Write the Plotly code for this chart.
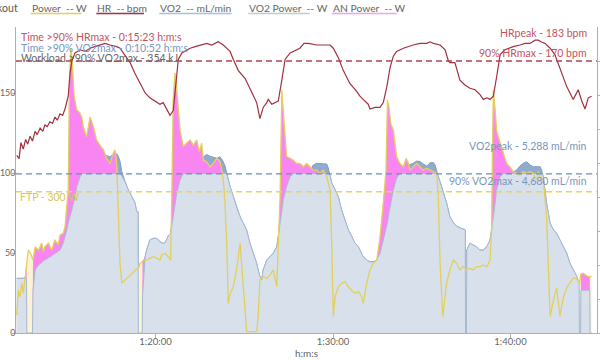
import numpy as np
import plotly.graph_objects as go

# ---------------- data ----------------
# elapsed time (s) for power / VO2 / VO2 power samples
t = [4331,4336,4342,4348,4353,4359,4364,4365,4370,4378,4384,4386,4393,4404,4410,4415,4421,4426,4438,4449,4460,4471,4477,
     4488,4494,4500,4505,4509,4514,4519,4525,4534,4545,4551,4556,4567,4579,4590,4601,4612,4624,4635,4646,4657,4663,4669,4674,4680,
     4686,4697,4708,4720,4731,4736,4741,4742,4748,4755,4756,4759,4765,4770,4781,4793,4804,4815,4821,4832,4843,4851,
     4855,4860,4866,4872,4883,4894,4905,4917,4928,4939,4948,4956,4962,4973,4984,4995,5007,5018,5024,5029,5035,5041,
     5046,5052,5063,5074,5086,5097,5108,5119,5131,5142,5147,5153,5159,5164,5176,5187,5198,5210,5215,5221,5227,5232,5243,5255,
     5266,5277,5288,5300,5311,5322,5333,5345,5356,5367,5379,5384,5390,5396,5401,5407,5418,5429,5441,5452,5463,5474,5486,5497,5502,5514,5525,5536,5548,
     5559,5570,5579,5584,5589,5595,5604,5615,5626,5638,5647,5655,5660,5671,5683,5694,5705,5717,5728,5739,5745,5751,
     5756,5762,5771,5779,5784,5795,5807,5818,5829,5840,5847,5848,5851,5852,5863,5874,5886,5897,5908,5920,5931,
     5936,5940,5942,5948,5953,5959,5965,5976,5987,5998,6009,6021,6032,6043,6055,6066,6077,6089,6094,6100,6105,6111,
     6122,6134,6145,6156,6167,6178,6190,6201,6212,6224,6232,6233,6237,6238,6246,6258,6268,6269,6274]

power_w = [38,91,77,106,84,120,153, 155,176,169,157,
           155,183,176,183,191,173,183,191,176,198,187,208,
           212,226,276,304,537,605,573,502,474,467,
           457,438,417,459,438,410,399,389,371,360,382,389,360,247,148,
           106,113,120,127,134,136,137, 137,148,151,
           152,155,155,155,159,162,159,155,166,169,162,155,
           290,502,552,516,431,
           396,403,410,399,410,385,403,367,364,353,360,371,364,346,325,276,183,
           63,84,98,134,191,91,3,3,3,3,
           35,113,117,120,116,123,134,98,
           183,290,516,467,375,371,
           367,360,360,353,360,353,346,346,339,346,332,319,304,
           183,35,77,98,106,109,98,91,84,88,77,63,106,134,148,155,
           205,276,346,495,481,445,431,375,
           360,353,371,360,346,353,360,353,346,350,346,343,341,339,
           290,148,35,77,106,134,155,148,134,141,138,
           137,134,
           134,137,134,141,141,144,141,155,
           219,431,516,474,431,416,403,
           382,360,353,343,339,336,343,339,343,339,325,343,332,329,325,
           247,35,70,96,36,74,96,106,117,115,106,
           106,123,
           125,127,121,119,
           119,121]

vo2_power_w = [116]*7 + [0]*4 + \
    [91,134,144,148,151,153,155,159,164,169,174,176] + \
    [191,204,219,234,242,255,266,283,311,332] + [339]*15 + \
    [334,321,304,290,276,258,258] + [0]*3 + \
    [77,113,162,176,198,201,201,194,191,191,206,212] + \
    [227,247,276,297,325] + [339]*17 + \
    [325,311,290,268,247,233,219,191,169,148] + \
    [134,120,113,134,155,162,169,183] + \
    [205,240,261,283,311,332] + [339]*12 + [334] + \
    [318,312,304,290,261,240,219,206,191,183,170,162,155,151,151,155] + \
    [169,198,219,234,255,276,304,329] + [339]*14 + \
    [332,321,304,290,276,247,234,227,223,221,219] + [0]*2 + \
    [176,191,187,183,176,176,183,198] + \
    [219,236,247,276,304,321,332] + [339]*14 + [332] + \
    [276,233,219,212,198,183,169,148,134,120,106] + [0]*2 + \
    [91]*4 + [0]*2

vo2_ml = [1609]*7 + [0]*4 + \
    [1265,1853,2000,2050,2088,2118,2147,2206,2265,2344,2412,2441] + \
    [2638,2823,3029,3235,3353,3529,3676,3912,4303,4597] + \
    [4697,4735,4794,4911,4991,5150,5200,5260,5220,5180,5250,5288,5270,5200,5050] + \
    [4750,4450,4206,4009,3814,3567,3567] + [0]*3 + \
    [1068,1559,2244,2441,2735,2785,2785,2685,2647,2638,2853,2932] + \
    [3147,3420,3814,4117,4500] + \
    [4697,4794,4891,4991,5038,5088,5150,5180,5250,5200,5176,5138,5185,5117,5038,4911,4697] + \
    [4500,4303,4009,3715,3420,3226,3029,2638,2344,2050] + \
    [1853,1656,1559,1853,2147,2244,2344,2538] + \
    [2832,3323,3617,3912,4303,4597] + \
    [4697,4697,4697,4697,4697,4735,4941,4991,4991,4991,4970,4853,4617] + \
    [4403,4323,4206,4009,3617,3323,3029,2853,2638,2529,2353,2244,2147,2097,2097,2147] + \
    [2344,2735,3029,3235,3529,3823,4206,4559] + \
    [4794,4853,4911,4941,4956,4991,5059,5044,4970,4911,5005,5014,4941,4697] + \
    [4597,4450,4206,4009,3823,3420,3235,3147,3088,3059,3029] + [0]*2 + \
    [2441,2638,2588,2529,2441,2441,2538,2735] + \
    [3029,3265,3420,3814,4206,4450,4597] + \
    [4697,4697,4697,4735,4794,4911,4991,5038,4941,4891,4891,4891,4891,4794,4597] + \
    [3814,3226,3029,2932,2735,2538,2344,2050,1853,1656,1462] + [0]*2 + \
    [1265]*4 + [0]*2

# heart rate samples
t_hr = [4331,4339,4345,4353,4361,4368,4376,4384,4393,4400,4410,4419,4426,4434,4443,4452,4460,4468,4477,4486,
        4494,4505,4511,4517,4528,4545,4562,4579,4595,4612,4629,4646,4669,4680,4691,4703,4714,4731,4748,4765,
        4781,4798,4815,4826,4838,4849,4860,4866,4877,4889,4900,4917,4934,4950,4973,4990,5012,5029,5052,5063,
        5080,5103,5119,5131,5142,5153,5164,5176,5181,5193,5204,5215,5227,5238,5255,5277,5288,5302,5317,5345,
        5366,5390,5401,5418,5435,5457,5480,5491,5502,5519,5525,5542,5559,5570,5582,5593,5604,5615,5638,5654,
        5671,5694,5717,5728,5739,5762,5779,5790,5795,5812,5829,5846,5863,5880,5897,5908,5920,5931,5942,5953,
        5965,5981,6009,6032,6049,6066,6083,6094,6103,6117,6134,6150,6167,6190,6212,6229,6241,6252,6263,6274]
hr_bpm = [111,109,119,115,121,118,123,120,126,124,128,126,130,129,132,131,135,133,137,136,
          140,148,162,170,175,177,176,178,179,180,181,180,179,178,175,172,169,162,156,150,
          147,145,143,144,140,136,139,152,171,175,176,178,179,180,181,180,182,180,176,171,
          164,159,153,149,144,134,141,144,146,143,144,145,158,171,175,177,178,181,181,180,
          180,180,178,172,164,156,151,148,146,143,140,141,141,144,154,166,173,176,178,179,
          180,181,181,182,181,180,177,170,169,169,158,155,153,152,149,146,147,146,148,160,
          174,177,179,180,181,181,183,183,182,181,178,174,166,154,146,152,145,140,147,148]

x_tick_vals = [4800, 5400, 6000]
x_tick_text = ["1:20:00", "1:30:00", "1:40:00"]
hr_ticks = [0, 50, 100, 150]
vo2_ticks = [0, 1, 2, 3, 4, 5, 6, 7, 8]

hr_90 = 170
vo2_90 = 4680
ftp = 300

legend_labels = ["Power  -- W", "HR  -- bpm", "VO2  -- mL/min", "VO2 Power  -- W", "AN Power  -- W"]

# ---------------- derived ----------------
power = np.array(power_w, dtype=float)
vp = np.array(vo2_power_w, dtype=float)
an_power = np.where(vp > 0, np.clip(power - vp, 0, None), 0.0)
vo2_l = np.array(vo2_ml) / 1000.0

# ---------------- styling ----------------
C_POWER = "#e3d05a"
C_HR = "#a3303f"
C_VO2_FILL = "#90abcc"
C_VO2_LINE = "#809ec3"
C_VP_FILL = "#d7e0eb"
C_VP_LINE = "#a6b9d1"
C_AN = "#f985f3"
C_PALE = "rgba(251,243,212,1)"
FONT = "Lato"

L, R, T, B = 16, 3, 27, 27
W, H = 600, 360
PW, PH = W - L - R, H - T - B


def px(x):
    return (x - L) / PW


def py(y):
    return (H - B - y) / PH


fig = go.Figure()
# VO2 area (main axis, right side)
fig.add_trace(go.Scatter(x=t, y=vo2_l, yaxis="y", mode="lines",
                         line=dict(color=C_VO2_LINE, width=1), fill="tozeroy",
                         fillcolor=C_VO2_FILL, name="VO2"))
# pale power fill
fig.add_trace(go.Scatter(x=t, y=power, yaxis="y2", mode="lines",
                         line=dict(width=0, color="rgba(0,0,0,0)"), fill="tozeroy",
                         fillcolor=C_PALE, hoverinfo="skip"))
# AN power stacked on VO2 power
fig.add_trace(go.Scatter(x=t, y=vp, yaxis="y2", mode="lines",
                         line=dict(width=0, color="rgba(0,0,0,0)"), hoverinfo="skip"))
fig.add_trace(go.Scatter(x=t, y=vp + an_power, yaxis="y2", mode="lines",
                         line=dict(width=0, color="rgba(0,0,0,0)"), fill="tonexty",
                         fillcolor=C_AN, name="AN Power"))
# VO2 power
fig.add_trace(go.Scatter(x=t, y=vp, yaxis="y2", mode="lines",
                         line=dict(color=C_VP_LINE, width=1), fill="tozeroy",
                         fillcolor=C_VP_FILL, name="VO2 Power"))
# power line
fig.add_trace(go.Scatter(x=t, y=power, yaxis="y2", mode="lines",
                         line=dict(color=C_POWER, width=1.3), name="Power"))
# HR
fig.add_trace(go.Scatter(x=t_hr, y=hr_bpm, yaxis="y3", mode="lines",
                         line=dict(color=C_HR, width=1.2), name="HR"))

axis_common = dict(showgrid=False, zeroline=False, showline=True, linecolor="#b0b0b0",
                   linewidth=1, ticks="outside", tickcolor="#b0b0b0", automargin=False)
tick_font = dict(family=FONT, size=9.5, color="#666")

fig.update_layout(
    width=W, height=H, margin=dict(l=L, r=R, t=T, b=B, pad=0, autoexpand=False),
    paper_bgcolor="white", plot_bgcolor="white", showlegend=False,
    font=dict(family=FONT, size=10, color="#666"),
    xaxis=dict(range=[4328.4, 6292.4], tickvals=x_tick_vals, ticktext=x_tick_text,
               ticklen=4, ticklabelstandoff=-4, tickfont=tick_font, **axis_common),
    yaxis=dict(range=[0, 9], side="right", tickvals=vo2_ticks, ticklen=2,
               ticklabelstandoff=-1, tickfont=tick_font, **axis_common),
    yaxis2=dict(range=[0, 650], overlaying="y", visible=False, automargin=False),
    yaxis3=dict(range=[0, 191.25], overlaying="y", side="left", tickvals=hr_ticks,
                ticklen=3, ticklabelstandoff=-5,
                tickfont=dict(family=FONT, size=8.8, color="#666"), **axis_common),
)

# reference lines
fig.add_shape(type="line", xref="paper", x0=0, x1=1, yref="y3", y0=hr_90, y1=hr_90,
              line=dict(color="#ad4452", width=1.3, dash="6px,4px"))
fig.add_shape(type="line", xref="paper", x0=0, x1=1, yref="y", y0=vo2_90 / 1000, y1=vo2_90 / 1000,
              line=dict(color="#6f8db5", width=1.3, dash="6px,4px"))
fig.add_shape(type="line", xref="paper", x0=0, x1=1, yref="y2", y0=ftp, y1=ftp,
              line=dict(color="#e3d467", width=1.3, dash="6px,4px"))

ann = []
def add_text(text, x, y, color, size=10, xanchor="left"):
    ann.append(dict(text=text, xref="paper", yref="paper", x=px(x), y=py(y),
                    xanchor=xanchor, yanchor="middle", showarrow=False, borderpad=0,
                    font=dict(family=FONT, size=size, color=color)))

# title (cut off at the left) and legend row
add_text("Workout", 19, 8, "#555", size=10.5, xanchor="right")
legend_cols = [C_POWER, C_HR, "#a9c0dc", "#c5c9cf", "#eea2ee"]
legend_x = [(30.7, 81.7), (96.3, 144), (159.3, 231.7), (248.3, 310), (331.7, 396.7)]
for lab, col, (x0, x1) in zip(legend_labels, legend_cols, legend_x):
    add_text(lab, x0, 7.5, "#666", size=10.3)
    fig.add_shape(type="line", xref="paper", yref="paper", x0=px(x0), x1=px(x1),
                  y0=py(13.5), y1=py(13.5), line=dict(color=col, width=1.5))

C_HR_TXT = "#c2525e"
C_VO2_TXT = "#7896bd"
add_text("Time >90% HRmax - 0:15:23 h:m:s", 20, 36.7, C_HR_TXT, size=10.5)
add_text("Time >90% VO2max - 0:10:52 h:m:s", 20, 48.3, C_VO2_TXT, size=10.5)
add_text("Workload >90% VO2max - 354 kJ", 20, 58.5, "#666", size=10.5)
add_text("HRpeak - 183 bpm", 588.3, 33.3, C_HR_TXT, size=10.5, xanchor="right")
add_text("90% HRmax - 170 bpm", 588.3, 53.3, C_HR_TXT, size=10.5, xanchor="right")
add_text("VO2peak - 5,288 mL/min", 588.3, 146, C_VO2_TXT, size=10.5, xanchor="right")
add_text("90% VO2max - 4,680 mL/min", 588.3, 181, C_VO2_TXT, size=10.5, xanchor="right")
add_text("FTP - 300 W", 19.3, 196.7, "#d6c55c", size=10.5)
add_text("h:m:s", 306, 353, "#666", size=10, xanchor="center")
fig.update_layout(annotations=ann)

fig.write_html("out.html")
